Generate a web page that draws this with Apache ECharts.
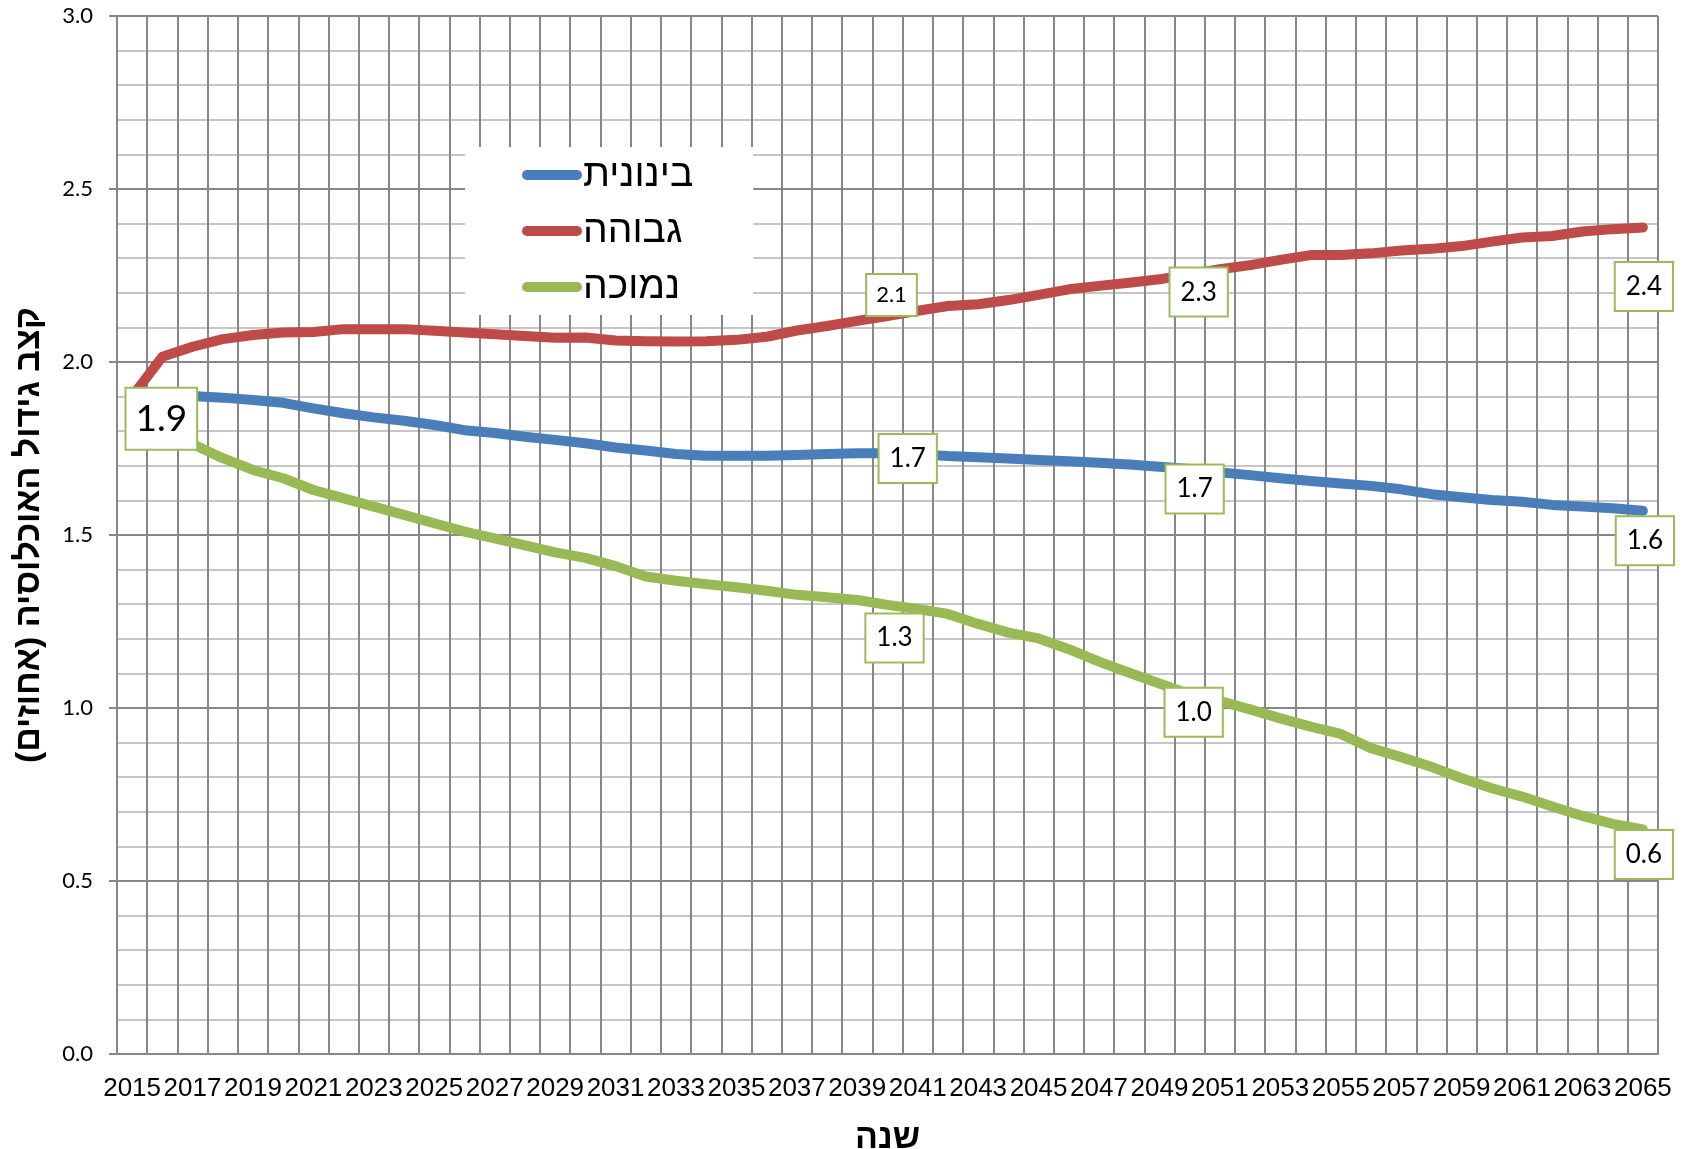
<!DOCTYPE html>
<html><head><meta charset="utf-8">
<script src="https://cdn.jsdelivr.net/npm/echarts@6/dist/echarts.min.js"></script>
<style>html,body{margin:0;padding:0;background:#fff}#c{width:1690px;height:1149px}</style>
</head><body><div id="c"></div>
<script>
const years = ['2015','2016','2017','2018','2019','2020','2021','2022','2023','2024','2025','2026','2027','2028','2029','2030','2031','2032','2033','2034','2035','2036','2037','2038','2039','2040','2041','2042','2043','2044','2045','2046','2047','2048','2049','2050','2051','2052','2053','2054','2055','2056','2057','2058','2059','2060','2061','2062','2063','2064','2065'];
const seriesNames = ['בינונית', 'גבוהה', 'נמוכה'];
const medium = [1.90,1.905,1.902,1.897,1.890,1.882,1.866,1.852,1.840,1.830,1.818,1.803,1.795,1.784,1.775,1.765,1.753,1.744,1.734,1.729,1.729,1.729,1.731,1.734,1.736,1.736,1.733,1.728,1.725,1.721,1.717,1.713,1.709,1.704,1.697,1.691,1.681,1.673,1.664,1.656,1.649,1.642,1.632,1.618,1.609,1.601,1.596,1.587,1.582,1.577,1.570];
const high = [1.90,2.015,2.044,2.066,2.078,2.085,2.087,2.095,2.095,2.095,2.090,2.085,2.080,2.075,2.070,2.071,2.062,2.060,2.059,2.060,2.064,2.073,2.091,2.104,2.119,2.133,2.148,2.162,2.167,2.179,2.194,2.210,2.220,2.229,2.239,2.254,2.268,2.280,2.295,2.309,2.309,2.314,2.322,2.327,2.335,2.348,2.360,2.364,2.377,2.384,2.389];
const low = [1.90,1.800,1.763,1.722,1.688,1.664,1.630,1.606,1.582,1.558,1.534,1.510,1.490,1.470,1.450,1.434,1.410,1.380,1.368,1.358,1.349,1.339,1.327,1.320,1.312,1.298,1.286,1.272,1.243,1.218,1.201,1.170,1.134,1.102,1.071,1.040,1.020,0.996,0.970,0.946,0.925,0.884,0.858,0.830,0.797,0.768,0.744,0.715,0.688,0.665,0.649];
const yAxisTitle = 'קצב גידול האוכלוסיה (אחוזים)';
const xAxisTitle = 'שנה';

// label placement (styling only)
const labelSpecs = [
  {1: {off: [-1, 24], fs: 37, pad: [12, 9, 11, 9]}, 26: {off: [-10, 4], fs: 26, pad: [11, 10, 10, 10]}, 35: {off: [5, 20], fs: 26, pad: [11, 10, 10, 10]}, 50: {off: [2, 30], fs: 26, pad: [11, 10, 10, 10]}},
  {25: {off: [4, -21], fs: 22, pad: [9, 9, 9, 9]}, 35: {off: [9, 18], fs: 26, pad: [11, 10, 10, 10]}, 50: {off: [1, 59], fs: 26, pad: [11, 10, 10, 10]}},
  {25: {off: [7, 33], fs: 26, pad: [11, 10, 10, 10]}, 35: {off: [4, 18], fs: 26, pad: [11, 10, 10, 10]}, 50: {off: [1, 25], fs: 26, pad: [11, 10, 10, 10]}}
];
const colors = ['#4A7EBB', '#BE4B48', '#98B954'];
const values = [medium, high, low];

function buildData(vals, specs) {
  return vals.map((v, i) => {
    const s = specs[i];
    if (!s) return v;
    return {
      value: v,
      label: {
        show: true, position: 'inside', offset: s.off,
        formatter: (p) => Number(p.value).toFixed(1),
        fontFamily: 'Lato', fontSize: s.fs, lineHeight: s.fs, color: '#000',
        backgroundColor: '#fff', borderColor: '#9BBB59', borderWidth: 2,
        padding: s.pad
      }
    };
  });
}

const chart = echarts.init(document.getElementById('c'), null, {renderer: 'canvas'});
const gridGray = '#878787';
chart.setOption({
  animation: false,
  backgroundColor: '#fff',
  grid: {left: 117, right: 32, top: 16, bottom: 95, containLabel: false, outerBoundsMode: 'none'},
  legend: {
    orient: 'vertical', left: 465, top: 147,
    backgroundColor: '#fff',
    padding: [8, 60, 8, 57],
    itemWidth: 60, itemHeight: 10, itemGap: 16,
    icon: 'path://M5 0H55A5 5 0 0 1 55 10H5A5 5 0 0 1 5 0Z',
    textStyle: {fontFamily: 'Liberation Sans', fontSize: 39, lineHeight: 40, color: '#000', padding: [0, 0, 0, -4]},
    data: seriesNames
  },
  xAxis: {
    type: 'category', data: years, boundaryGap: true,
    axisLine: {show: true, lineStyle: {color: gridGray, width: 2}},
    axisTick: {show: false},
    axisLabel: {interval: 1, fontFamily: 'Liberation Sans', fontSize: 26, color: '#000', margin: 22},
    splitLine: {show: true, interval: 0, lineStyle: {color: gridGray, width: 2}},
    name: xAxisTitle, nameLocation: 'middle', nameGap: 68,
    nameTextStyle: {fontFamily: 'Liberation Sans', fontWeight: 'bold', fontSize: 34, color: '#000'}
  },
  yAxis: {
    type: 'value', min: 0, max: 3, interval: 0.5,
    axisLine: {show: true, lineStyle: {color: gridGray, width: 2}},
    axisTick: {show: true, length: 8, lineStyle: {color: gridGray, width: 2}},
    minorTick: {show: false, splitNumber: 5},
    axisLabel: {formatter: (v) => v.toFixed(1), fontFamily: 'Lato', fontSize: 22, color: '#000', margin: 24},
    splitLine: {show: true, lineStyle: {color: gridGray, width: 2}},
    minorSplitLine: {show: true, lineStyle: {color: '#c6c6c6', width: 2}},
    name: yAxisTitle, nameLocation: 'middle', nameRotate: 90, nameGap: 70,
    nameTextStyle: {fontFamily: 'Liberation Sans', fontWeight: 'bold', fontSize: 34, color: '#000'}
  },
  series: seriesNames.map((n, k) => ({
    name: n, type: 'line',
    data: buildData(values[k], labelSpecs[k]),
    showSymbol: true, showAllSymbol: true, symbol: 'circle', symbolSize: 0,
    itemStyle: {color: colors[k]},
    lineStyle: {color: colors[k], width: 10, cap: 'round', join: 'round'},
    emphasis: {disabled: true},
    z: 2
  }))
});
</script></body></html>
